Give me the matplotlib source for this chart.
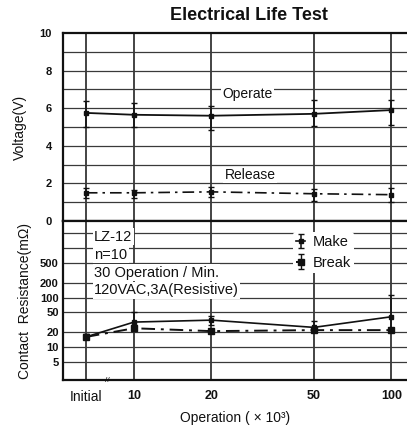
import matplotlib.pyplot as plt
import numpy as np

plt.rcParams['font.family'] = ['Liberation Sans', 'DejaVu Sans']

# operations (x10^3); "Initial" sits left of 10 on the log axis
ops_x = [6.5, 10, 20, 50, 100]
ops_labels = ['Initial', '10', '20', '50', '100']

# voltage (V)
operate_mean = [5.75, 5.65, 5.6, 5.7, 5.9]
operate_max = [6.4, 6.3, 6.1, 6.45, 6.45]
operate_min = [5.0, 5.0, 4.85, 5.05, 5.1]

release_mean = [1.5, 1.5, 1.55, 1.45, 1.4]
release_max = [1.75, 1.65, 1.8, 1.7, 1.75]
release_min = [1.2, 1.2, 1.3, 1.05, 1.0]

# contact resistance (mOhm)
make_mean = [16, 32, 35, 25, 41]
make_max = [18, 50, 43, 34, 113]
make_min = [15, 24, 28, 22, 24]

break_mean = [16, 24, 21, 22, 22]
break_max = [18, 28, 23, 24, 24]
break_min = [15, 21, 20, 20, 20]

volt_ticks = [0, 2, 4, 6, 8, 10]
res_grid = [5, 10, 20, 50, 100, 200, 500, 1000, 2000]
res_labels = ['5', '10', '20', '50', '100', '200', '500', '', '']

notes = ['LZ-12', 'n=10', '30 Operation / Min.', '120VAC,3A(Resistive)']

INK = '#111111'
GRID = '#3a3a3a'


def err(mean, lo, hi):
	mean = np.array(mean)
	return [mean - np.array(lo), np.array(hi) - mean]


fig = plt.figure(figsize=(4.07, 4.33), dpi=100)
ax_v = fig.add_axes([0.1548, 0.4896, 0.8452, 0.4342])
ax_r = fig.add_axes([0.1548, 0.1224, 0.8452, 0.3672], sharex=ax_v)

for ax in (ax_v, ax_r):
	ax.set_xscale('log')
	ax.set_xlim(5.3, 115)
	ax.spines['right'].set_visible(False)
	for s in ('left', 'top', 'bottom'):
		ax.spines[s].set_color(INK)
		ax.spines[s].set_linewidth(1.6)
	ax.tick_params(length=0, labelsize=8, colors=INK)
	ax.set_xticks(ops_x)
	ax.xaxis.set_minor_locator(plt.NullLocator())
	for xv in ops_x:
		ax.axvline(xv, color=INK, lw=1.1, zorder=1)

# --- voltage panel
ax_v.set_ylim(0, 10)
ax_v.set_yticks(volt_ticks)
ax_v.set_yticklabels([str(t) for t in volt_ticks], fontweight='bold')
for yv in range(1, 10):
	ax_v.axhline(yv, color=GRID, lw=0.9, zorder=1)
ax_v.tick_params(axis='x', labelbottom=False)
ax_v.tick_params(axis='y', pad=8)

ax_v.errorbar(ops_x, operate_mean, yerr=err(operate_mean, operate_min, operate_max),
	color=INK, lw=1.3, marker='s', ms=3.5, capsize=2.5, elinewidth=1.1, zorder=3)
ax_v.errorbar(ops_x, release_mean, yerr=err(release_mean, release_min, release_max),
	color=INK, lw=1.2, ls=(0, (7, 3, 1.5, 3)), marker='s', ms=3, capsize=2.5,
	elinewidth=1.1, zorder=3)

box = dict(facecolor='white', edgecolor='none', pad=1.0)
ax_v.text(27.5, 6.75, 'Operate', fontsize=10, color=INK, ha='center', va='center', bbox=box, zorder=2)
ax_v.text(28.3, 2.45, 'Release', fontsize=10, color=INK, ha='center', va='center', bbox=box, zorder=2)
ax_v.set_ylabel('Voltage(V)', fontsize=10, color=INK, labelpad=9)
ax_v.set_title('Electrical Life Test', fontsize=13, fontweight='bold', color=INK, pad=9, x=0.54)

# --- resistance panel
ax_r.set_yscale('log')
ax_r.set_ylim(2.16, 3530)
ax_r.set_yticks(res_grid)
ax_r.set_yticklabels(res_labels, fontweight='bold')
ax_r.yaxis.set_minor_locator(plt.NullLocator())
for yv in res_grid:
	ax_r.axhline(yv, color=GRID, lw=0.9, zorder=1)
ax_r.set_xticklabels(ops_labels, fontsize=9, fontweight='bold')
ax_r.get_xticklabels()[0].set_fontweight('normal')
ax_r.get_xticklabels()[0].set_fontsize(10)
ax_r.tick_params(axis='x', pad=7)
ax_r.tick_params(axis='y', pad=3)

mk = ax_r.errorbar(ops_x, make_mean, yerr=err(make_mean, make_min, make_max),
	color=INK, lw=1.2, marker='s', ms=3.5, capsize=2.5, elinewidth=1.1, zorder=3)
br = ax_r.errorbar(ops_x, break_mean, yerr=err(break_mean, break_min, break_max),
	color=INK, lw=1.4, ls=(0, (7, 3, 1.5, 3)), marker='s', ms=4, capsize=2,
	elinewidth=1.0, zorder=3)

for i, line in enumerate(notes):
	ax_r.text(0.09, 0.9 - i * 0.112, line, transform=ax_r.transAxes, fontsize=10.5,
		color=INK, ha='left', va='center', bbox=box, zorder=2)

leg = ax_r.legend([mk, br], ['Make', 'Break'], loc='upper left', bbox_to_anchor=(0.67, 0.93),
	fontsize=10.5, frameon=True, handlelength=0.6, handletextpad=0.5, borderpad=0.2,
	labelspacing=0.45, borderaxespad=0)
leg.get_frame().set_facecolor('white')
leg.get_frame().set_edgecolor('none')
leg.get_frame().set_alpha(1)
for t in leg.get_texts():
	t.set_color(INK)

ax_r.text(0.13, 0.0, '//', transform=ax_r.transAxes, fontsize=6, ha='center', va='center', color=INK)
ax_r.set_ylabel('Contact  Resistance(m\u03a9)', fontsize=10, color=INK, labelpad=6)
ax_r.set_xlabel('Operation ( \u00d7 10\u00b3)', fontsize=10, color=INK, labelpad=5)

fig.savefig('out.png', dpi=100)
